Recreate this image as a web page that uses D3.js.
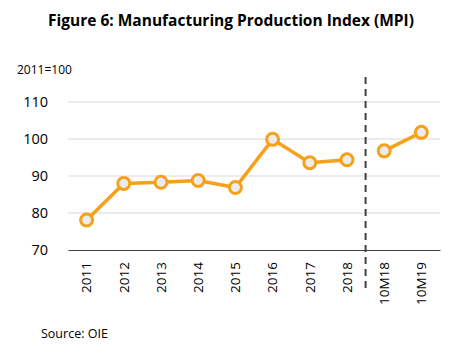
<!DOCTYPE html>
<html>
<head>
<meta charset="utf-8">
<script src="https://cdn.jsdelivr.net/npm/d3@7"></script>
<style>
  body { margin: 0; background: #fff; }
  svg { display: block; font-family: "Open Sans", "Liberation Sans", sans-serif; }
</style>
</head>
<body>
<div id="chart"></div>
<script>
// data
const categories = ["2011", "2012", "2013", "2014", "2015", "2016", "2017", "2018", "10M18", "10M19"];
const annualValues = [78.1, 88.0, 88.3, 88.8, 86.9, 99.9, 93.6, 94.4];
const ytdValues = [96.8, 101.8];
const yTicks = [70, 80, 90, 100, 110];

const width = 463, height = 349;
const margin = { top: 102, right: 23, bottom: 99, left: 68 };

const svg = d3.select("#chart").append("svg")
    .attr("width", width)
    .attr("height", height);

const x = d3.scaleBand()
    .domain(categories)
    .range([margin.left, width - margin.right]);

const y = d3.scaleLinear()
    .domain([70, 110])
    .range([height - margin.bottom, margin.top]);

// title
svg.append("text")
    .attr("x", 231)
    .attr("y", 26)
    .attr("text-anchor", "middle")
    .style("font-size", "15.5px")
    .style("font-weight", "bold")
    .style("fill", "#000")
    .text("Figure 6: Manufacturing Production Index (MPI)");

svg.append("text")
    .attr("x", 17)
    .attr("y", 74)
    .style("font-size", "12px")
    .style("fill", "#000")
    .text("2011=100");

// gridlines
svg.append("g")
    .selectAll("line")
    .data(yTicks.filter(d => d > 70))
    .enter()
    .append("line")
    .attr("x1", margin.left)
    .attr("x2", width - margin.right)
    .attr("y1", d => y(d))
    .attr("y2", d => y(d))
    .attr("stroke", "#d9d9d9")
    .attr("stroke-width", 1);

// y axis labels
const yAxis = d3.axisLeft(y).tickValues(yTicks).tickSize(0).tickPadding(20);
svg.append("g")
    .attr("transform", `translate(${margin.left},0)`)
    .call(yAxis)
    .call(g => g.select(".domain").remove())
    .call(g => g.selectAll("text")
        .style("font-size", "14.5px")
        .style("font-family", "Open Sans, Liberation Sans, sans-serif")
        .attr("fill", "#000"));

// x axis
const xAxis = d3.axisBottom(x).tickSize(0).tickSizeOuter(0);
svg.append("g")
    .attr("transform", `translate(0,${height - margin.bottom})`)
    .call(xAxis)
    .call(g => g.select(".domain").attr("stroke", "#404040").attr("stroke-width", 1))
    .call(g => g.selectAll("text")
        .attr("transform", "rotate(-90)")
        .attr("text-anchor", "end")
        .attr("x", -12)
        .attr("y", 0)
        .attr("dy", "0.35em")
        .style("font-size", "13.5px")
        .style("font-family", "Open Sans, Liberation Sans, sans-serif")
        .attr("fill", "#000"));

// divider between annual and year-to-date
const divX = x("10M18");
svg.append("line")
    .attr("x1", divX)
    .attr("x2", divX)
    .attr("y1", 77)
    .attr("y2", 290)
    .attr("stroke", "#404040")
    .attr("stroke-width", 2)
    .attr("stroke-dasharray", "7,5");

// lines + markers
const orange = "#f7a11a";
const line = d3.line()
    .x(d => x(d.cat) + x.bandwidth() / 2)
    .y(d => y(d.v));

const segments = [
    annualValues.map((v, i) => ({ cat: categories[i], v })),
    ytdValues.map((v, i) => ({ cat: categories[8 + i], v }))
];

segments.forEach(seg => {
    svg.append("path")
        .datum(seg)
        .attr("d", line)
        .attr("fill", "none")
        .attr("stroke", orange)
        .attr("stroke-width", 3.5);

    svg.selectAll(null)
        .data(seg)
        .enter()
        .append("circle")
        .attr("cx", d => x(d.cat) + x.bandwidth() / 2)
        .attr("cy", d => y(d.v))
        .attr("r", 6)
        .attr("fill", "#ececec")
        .attr("stroke", orange)
        .attr("stroke-width", 3);
});

svg.append("text")
    .attr("x", 41)
    .attr("y", 338)
    .style("font-size", "12.5px")
    .style("fill", "#000")
    .text("Source: OIE");
</script>
</body>
</html>
